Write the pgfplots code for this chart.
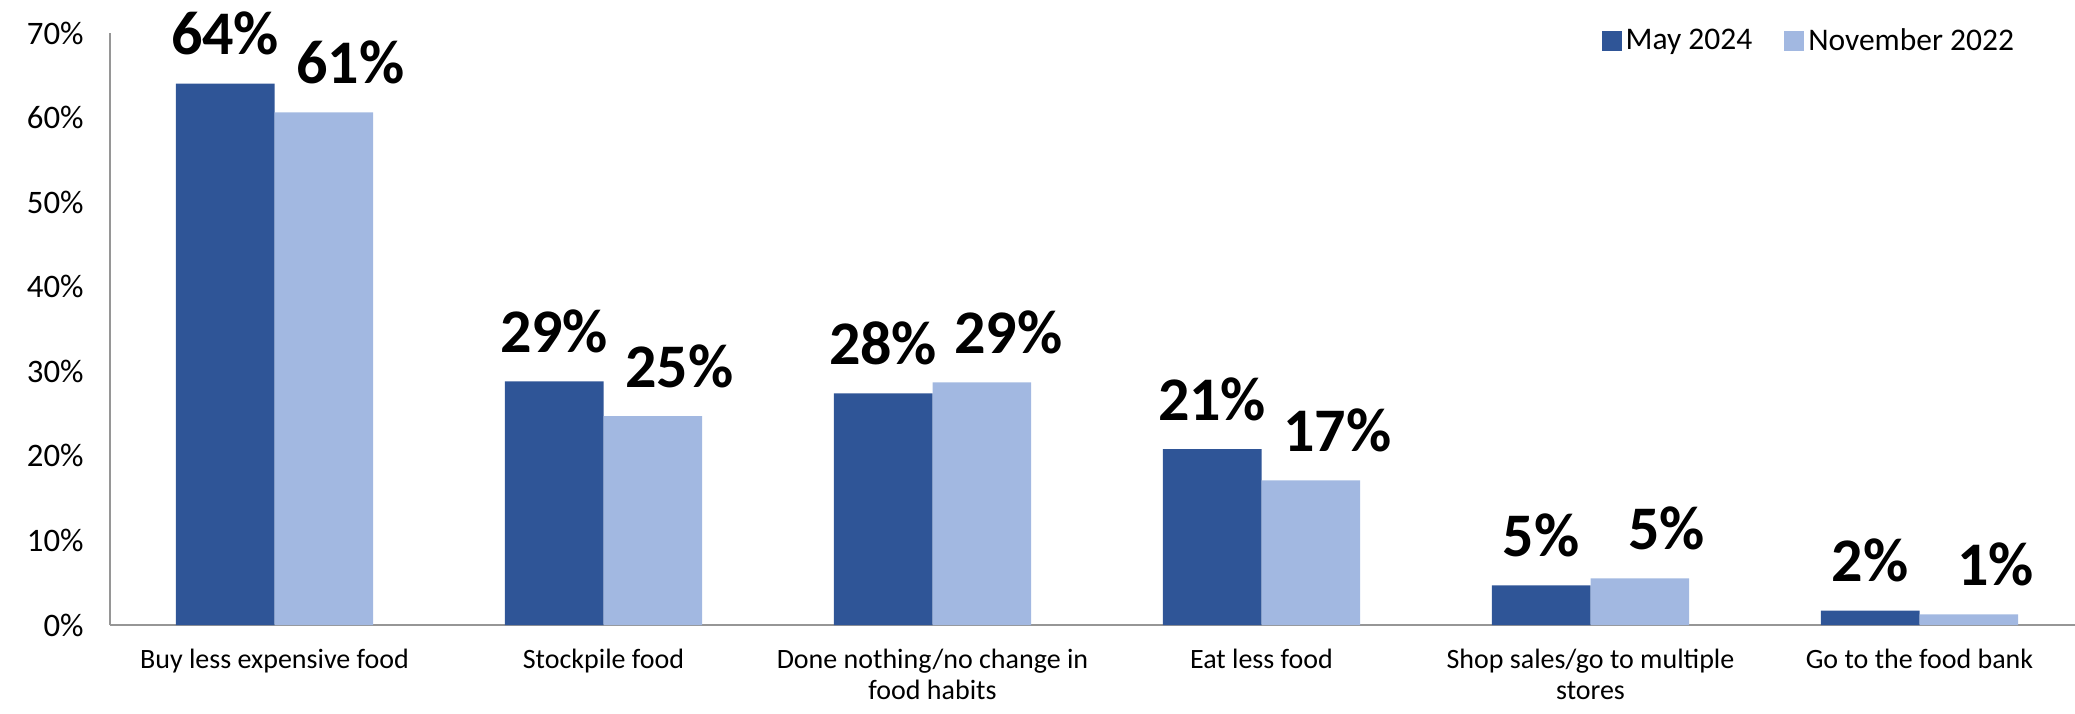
\documentclass[border=0pt]{standalone}
\usepackage{pgfplots}
\pgfplotsset{compat=1.18}
\usepackage{pgfplotstable}
\usepackage{fontspec}
\setmainfont{Carlito}
\definecolor{darkb}{HTML}{2F5597}
\definecolor{lightb}{HTML}{A2B8E1}
\definecolor{axgray}{HTML}{969696}

\pgfplotstableread{
x y lab
0 64.0 64
1 28.8 29
2 27.4 28
3 20.8 21
4 4.7 5
5 1.7 2
}\maydata
\pgfplotstableread{
x y lab
0 60.6 61
1 24.7 25
2 28.7 29
3 17.1 17
4 5.5 5
5 1.25 1
}\novdata

\begin{document}
\begin{tikzpicture}
\begin{axis}[
  at={(0,0)}, anchor=south west,
  scale only axis, width=987bp, height=296bp,
  xmin=-0.5, xmax=5.5, ymin=0, ymax=70,
  clip=false,
  axis x line*=bottom, axis y line*=left,
  axis line style={draw=axgray, line width=1bp, -},
  major tick length=0pt,
  ytick={0,10,...,70},
  yticklabels={0\%,10\%,20\%,30\%,40\%,50\%,60\%,70\%},
  yticklabel style={font=\fontsize{16.4bp}{18bp}\selectfont, anchor=east, inner sep=0pt, xshift=-13bp},
  xtick={0,1,2,3,4,5},
  xticklabels={Buy less expensive food, Stockpile food, {Done nothing/no change in\\food habits}, Eat less food, {Shop sales/go to multiple\\stores}, Go to the food bank},
  xticklabel style={font=\fontsize{14bp}{15.2bp}\selectfont, align=center, anchor=north, inner sep=0pt, yshift=-12bp},
  legend columns=2,
  legend style={draw=none, fill=none, inner sep=0pt, outer sep=0pt, anchor=east,
    at={(954bp,292bp)}, font=\fontsize{15.75bp}{17bp}\selectfont,
    nodes={inner sep=2bp},
    /tikz/every even column/.append style={column sep=14bp}},
  legend image code/.code={\fill[#1] (0bp,-5bp) rectangle (10bp,5bp);},
]
\addplot[ybar, bar width=0.3, bar shift=-0.15, fill=darkb, draw=none,
  nodes near coords={\pgfplotspointmeta\%}, point meta=explicit symbolic,
  every node near coord/.append style={font=\bfseries\fontsize{31bp}{31bp}\selectfont, anchor=south, yshift=14bp, xshift=-24.7bp, inner sep=0pt, text=black}]
  table[x=x, y=y, meta=lab]{\maydata};
\addlegendentry{May 2024}
\addplot[ybar, bar width=0.3, bar shift=0.15, fill=lightb, draw=none,
  nodes near coords={\pgfplotspointmeta\%}, point meta=explicit symbolic,
  every node near coord/.append style={font=\bfseries\fontsize{31bp}{31bp}\selectfont, anchor=south, yshift=14bp, xshift=38bp, inner sep=0pt, text=black}]
  table[x=x, y=y, meta=lab]{\novdata};
\addlegendentry{November 2022}
\end{axis}
\pgfresetboundingbox
\useasboundingbox (-55bp,-44.5bp) rectangle (982.5bp,312.5bp);
\end{tikzpicture}
\end{document}
